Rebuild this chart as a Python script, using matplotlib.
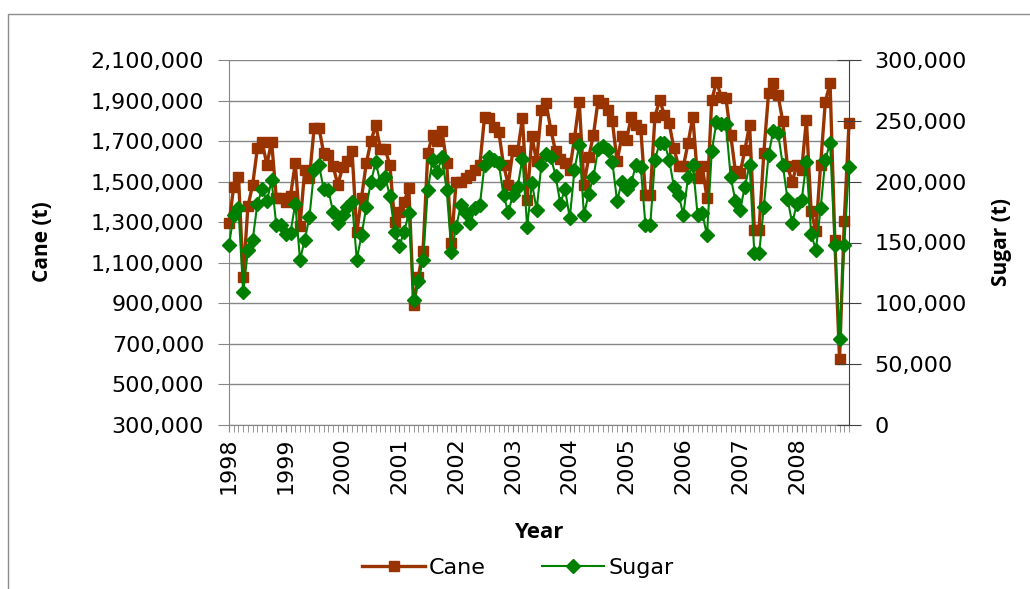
import numpy as np
import matplotlib.pyplot as plt
from matplotlib.ticker import FuncFormatter
from matplotlib.patches import Rectangle

# monthly production, Jan 1998 - Dec 2008 (thousand tonnes)
years = [1998, 1999, 2000, 2001, 2002, 2003, 2004, 2005, 2006, 2007, 2008]

cane_kt = [
    1296, 1476, 1525, 1032, 1378, 1485, 1665, 1698, 1583, 1698, 1419, 1419,  # 1998
    1400, 1430, 1592, 1280, 1559, 1520, 1767, 1767, 1641, 1633, 1575, 1485,  # 1999
    1570, 1600, 1650, 1250, 1420, 1590, 1700, 1780, 1660, 1660, 1580, 1300,  # 2000
    1350, 1400, 1470, 890, 1030, 1160, 1640, 1730, 1700, 1750, 1590, 1200,   # 2001
    1500, 1500, 1520, 1534, 1560, 1583, 1821, 1813, 1772, 1747, 1583, 1485,  # 2002
    1657, 1650, 1813, 1411, 1723, 1600, 1854, 1887, 1756, 1649, 1610, 1592,  # 2003
    1560, 1714, 1895, 1485, 1620, 1730, 1903, 1887, 1854, 1797, 1600, 1723,  # 2004
    1706, 1821, 1780, 1760, 1436, 1436, 1821, 1903, 1829, 1788, 1665, 1575,  # 2005
    1575, 1690, 1821, 1518, 1575, 1419, 1903, 1993, 1920, 1911, 1731, 1551,  # 2006
    1542, 1657, 1780, 1264, 1264, 1641, 1936, 1985, 1928, 1797, 1575, 1500,  # 2007
    1583, 1560, 1805, 1354, 1255, 1583, 1895, 1985, 1214, 624, 1305, 1788,   # 2008
]

sugar_kt = [
    148, 173, 178, 109, 144, 152, 182, 194, 184, 201, 164, 164,  # 1998
    157, 158, 182, 136, 152, 171, 210, 214, 194, 193, 175, 166,  # 1999
    173, 179, 183, 136, 156, 179, 200, 216, 199, 204, 188, 159,  # 2000
    147, 159, 174, 103, 118, 136, 193, 218, 208, 220, 193, 142,  # 2001
    163, 181, 174, 166, 178, 181, 214, 220, 218, 215, 189, 175,  # 2002
    189, 196, 219, 163, 199, 177, 214, 223, 220, 205, 182, 194,  # 2003
    170, 210, 230, 173, 190, 204, 227, 229, 226, 216, 184, 200,  # 2004
    194, 199, 214, 212, 164, 164, 218, 232, 232, 218, 196, 189,  # 2005
    173, 204, 214, 173, 174, 156, 225, 249, 247, 247, 204, 184,  # 2006
    177, 196, 214, 141, 141, 179, 222, 242, 240, 214, 186, 166,  # 2007
    182, 185, 216, 157, 144, 178, 218, 232, 148, 71, 148, 212,   # 2008
]

cane = np.array(cane_kt) * 1000
sugar = np.array(sugar_kt) * 1000
x = np.arange(len(cane))

fig = plt.figure(figsize=(10.3, 5.89), dpi=100)
ax = fig.add_axes([229 / 1030, 1 - 425 / 589, 620 / 1030, 365 / 589])
ax2 = ax.twinx()

l1, = ax.plot(x, cane, color='#993300', lw=2.4, marker='s', ms=7,
              label='Cane', clip_on=False, zorder=3)
l2, = ax2.plot(x, sugar, color='#008000', lw=1.5, marker='D', ms=7,
               label='Sugar', clip_on=False, zorder=3)

ax.set_xlim(0, len(x) - 1)
ax.set_ylim(300000, 2100000)
ax2.set_ylim(0, 300000)
ax.set_yticks(range(300000, 2100001, 200000))
ax2.set_yticks(range(0, 300001, 50000))
comma = FuncFormatter(lambda v, p: f'{int(v):,}')
ax.yaxis.set_major_formatter(comma)
ax2.yaxis.set_major_formatter(comma)

ax.set_xticks(np.arange(0, len(x), 12))
ax.set_xticklabels([str(y) for y in years], rotation=90)
ax.set_xticks(x, minor=True)

ax.grid(axis='y', color='#868686', lw=1)
ax.set_axisbelow(True)

grey = '#868686'
for a in (ax, ax2):
    a.spines['top'].set_visible(False)
ax.spines['right'].set_visible(False)
ax2.spines['left'].set_visible(False)
ax2.spines['bottom'].set_visible(False)
ax.spines['left'].set_color(grey)
ax.spines['bottom'].set_color(grey)
ax2.spines['right'].set_color('#404040')

ax.tick_params(axis='y', length=8, color=grey, pad=10, labelsize=16)
ax2.tick_params(axis='y', direction='inout', length=17, color='#404040',
                pad=10, labelsize=16)
ax.tick_params(axis='x', which='both', length=5, color=grey, pad=4,
               labelsize=16)

fig.text(42 / 1030, 1 - 242 / 589, 'Cane (t)', rotation=90, ha='center',
         va='center', fontsize=15, fontweight='bold', family='Open Sans')
fig.text(1001 / 1030, 1 - 242 / 589, 'Sugar (t)', rotation=90, ha='center',
         va='center', fontsize=15, fontweight='bold', family='Open Sans')
fig.text(539 / 1030, 1 - 533 / 589, 'Year', ha='center', va='center',
         fontsize=16, fontweight='bold', family='Open Sans')

fig.legend([l1, l2], ['Cane', 'Sugar'], loc='center',
           bbox_to_anchor=(518 / 1030, 1 - 568 / 589), ncol=2, frameon=False,
           fontsize=16, handlelength=2.8, handletextpad=0.2, columnspacing=2.5)

fig.patches.append(Rectangle((8 / 1030, -0.05), 1.2, 1.05 - 13.5 / 589,
                             transform=fig.transFigure, fill=False,
                             ec='#8c8c8c', lw=1))

fig.savefig('out.png', dpi=100)
